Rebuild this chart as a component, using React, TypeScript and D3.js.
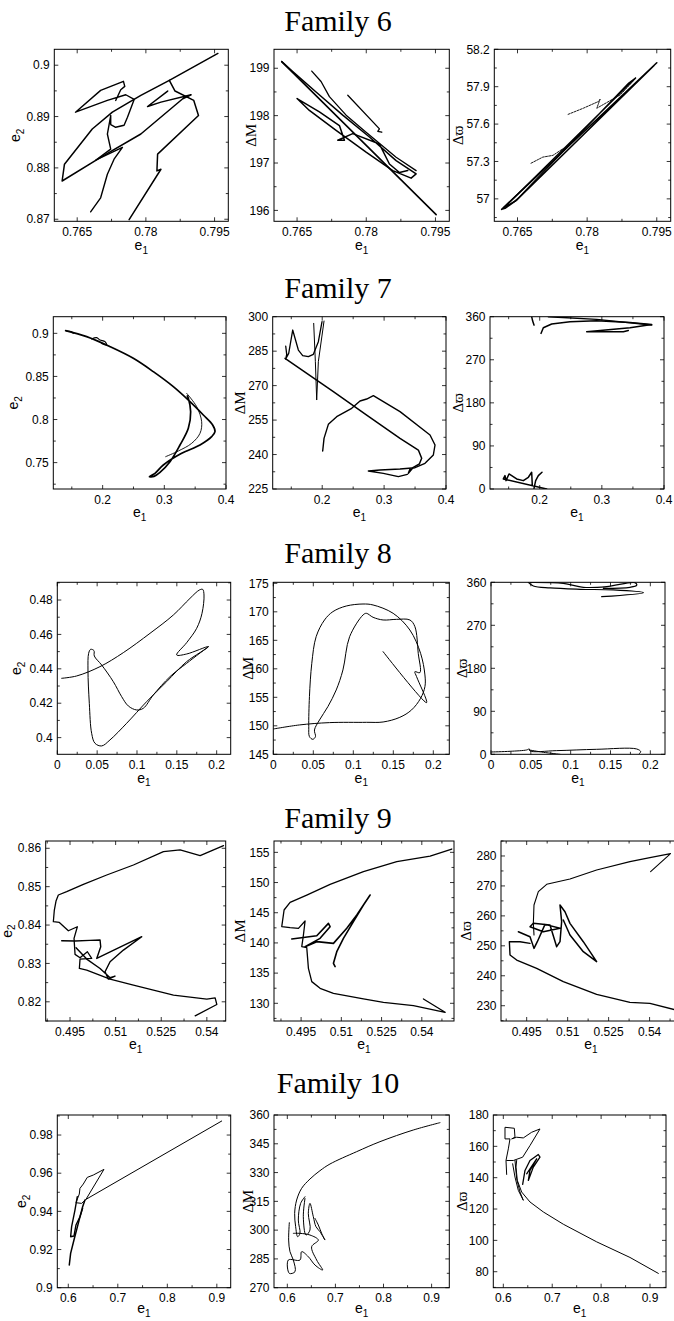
import React from "react";
import * as d3 from "d3";

type Pt = [number, number];

// ---------------- Family 6 ----------------
const fam6E1Ticks = [0.765, 0.78, 0.795];
const fam6E2Ticks = [0.87, 0.88, 0.89, 0.9];
const fam6DMTicks = [196, 197, 198, 199];
const fam6DWTicks = [57, 57.3, 57.6, 57.9, 58.2];

const fam6E2: Pt[][] = [
  [[0.79573, 0.90229], [0.78512, 0.89706], [0.7789, 0.89412], [0.77268, 0.89085], [0.76829, 0.88758], [0.76222, 0.88072], [0.76171, 0.87745], [0.77012, 0.88203], [0.7789, 0.8866], [0.78805, 0.89346], [0.78988, 0.89425], [0.78329, 0.89281], [0.78037, 0.89196], [0.78476, 0.89497]],
  [[0.78512, 0.89706], [0.78637, 0.89497], [0.79046, 0.89314], [0.79149, 0.8902], [0.78256, 0.88268], [0.78241, 0.87941], [0.78329, 0.87974], [0.77634, 0.86993]],
  [[0.76793, 0.87144], [0.77012, 0.87418], [0.77159, 0.87876], [0.77305, 0.8817], [0.77488, 0.88399], [0.76902, 0.8815], [0.77232, 0.88366], [0.77159, 0.8866], [0.77232, 0.8902], [0.77232, 0.88843], [0.77341, 0.88791], [0.77524, 0.8883], [0.77598, 0.88987], [0.77744, 0.89333], [0.77561, 0.89425], [0.77159, 0.89314], [0.76463, 0.89085], [0.77012, 0.8951], [0.7751, 0.89686], [0.77539, 0.89588], [0.77451, 0.89523], [0.77341, 0.89314]],
];

const fam6DM: Pt[][] = [
  [[0.76167, 199.14], [0.79515, 195.91]],
  [[0.76167, 199.14], [0.76406, 198.93], [0.76912, 198.5], [0.7749, 198.01], [0.78069, 197.55], [0.78647, 197.05], [0.79081, 196.77], [0.78972, 196.68], [0.78575, 196.84], [0.77996, 197.23], [0.77346, 197.69], [0.76767, 198.11], [0.765, 198.36], [0.76984, 198.08], [0.77418, 197.79], [0.77527, 197.48], [0.77382, 197.48], [0.77707, 197.62], [0.78286, 197.4], [0.78502, 196.98], [0.78719, 196.8], [0.789, 196.84]],
  [[0.76818, 198.94], [0.7702, 198.72], [0.77201, 198.4], [0.77563, 198.01], [0.77996, 197.65], [0.78647, 197.12], [0.79081, 196.84]],
  [[0.77599, 198.43], [0.78286, 197.72], [0.78249, 197.67], [0.78336, 197.65]],
];

const fam6DW: Pt[][] = [
  [[0.795, 58.092], [0.76159, 56.916], [0.76231, 56.924], [0.765, 56.997], [0.79442, 58.07]],
  [[0.79042, 57.97], [0.76209, 56.93], [0.76464, 56.984], [0.78897, 57.93], [0.79042, 57.97]],
  [[0.7759, 57.678], [0.77916, 57.727], [0.78243, 57.781], [0.7828, 57.8], [0.78207, 57.727], [0.78716, 57.835], [0.79042, 57.965]],
  [[0.76791, 57.286], [0.77045, 57.335], [0.77263, 57.349], [0.77481, 57.403]],
];

// ---------------- Family 7 ----------------
const fam7E1Ticks = [0.2, 0.3, 0.4];
const fam7E2Ticks = [0.75, 0.8, 0.85, 0.9];
const fam7DMTicks = [225, 240, 255, 270, 285, 300];
const fam7DWTicks = [0, 90, 180, 270, 360];

const fam7E2: Pt[][] = [
  [[0.14, 0.90309], [0.17405, 0.89613], [0.21189, 0.88453], [0.24973, 0.871], [0.28216, 0.85553], [0.31459, 0.83813], [0.34162, 0.82073], [0.36324, 0.80526], [0.37838, 0.79366], [0.38216, 0.78592], [0.37676, 0.78012], [0.35784, 0.77046], [0.32811, 0.76079], [0.29838, 0.74725], [0.28486, 0.73759], [0.27568, 0.73372], [0.28324, 0.73411], [0.29297, 0.73875], [0.30919, 0.75112], [0.32541, 0.77046], [0.33892, 0.78979], [0.3427, 0.80913], [0.33892, 0.82459], [0.3373, 0.8273]],
  [[0.33622, 0.83039], [0.35243, 0.81493], [0.36054, 0.79752], [0.35784, 0.78399], [0.34432, 0.77239], [0.3227, 0.76349], [0.30216, 0.75692]],
  [[0.18216, 0.89343], [0.19027, 0.89497], [0.19568, 0.89227], [0.20378, 0.89033], [0.20649, 0.88647], [0.19838, 0.8884]],
  [[0.14162, 0.90271], [0.14973, 0.90193], [0.15243, 0.9]],
];

const fam7DM: Pt[][] = [
  [[0.13992, 281.87], [0.21801, 267.36], [0.27186, 257.2], [0.32571, 247.05], [0.35533, 241.97], [0.36071, 238.35], [0.35694, 235.88], [0.34725, 234.43], [0.33917, 231.82], [0.34186, 233.7]],
  [[0.20077, 241.54], [0.20293, 247.05], [0.20993, 253.14], [0.22339, 256.48], [0.24763, 260.11], [0.26109, 263.3], [0.27186, 264.17], [0.28263, 265.62], [0.32571, 258.66], [0.37418, 248.5], [0.38226, 244.15], [0.37955, 239.8], [0.36609, 236.17], [0.34994, 234.28], [0.32571, 233.7], [0.2934, 233.27], [0.27455, 232.83], [0.29878, 231.82], [0.32301, 230.37], [0.33755, 231.38]],
  [[0.141, 287.23], [0.14262, 283.61], [0.141, 281.58], [0.14585, 284.04], [0.15231, 294.2], [0.16146, 285.49], [0.16847, 283.03], [0.17762, 282.59], [0.1857, 283.61], [0.19377, 289.12], [0.1997, 297.82]],
  [[0.18624, 297.1], [0.18893, 280.42], [0.19108, 263.73], [0.19377, 280.42], [0.20293, 298.11]],
];

const fam7DW: Pt[][] = [
  [[0.18705, 360], [0.18866, 350.91], [0.1908, 342.53]],
  [[0.20207, 325.05], [0.20582, 336.93], [0.21923, 344.62], [0.24874, 349.52], [0.29165, 351.61], [0.34529, 348.12], [0.38015, 343.92], [0.34529, 336.93], [0.27556, 328.55], [0.33456, 328.55], [0.3426, 331.34]],
  [[0.21387, 360], [0.29165, 354.41], [0.38015, 342.53]],
  [[0.21119, 0], [0.14146, 20.99], [0.14414, 27.98], [0.14575, 17.49], [0.15058, 31.47], [0.16291, 20.99], [0.17364, 17.49], [0.18169, 24.48], [0.18705, 34.97], [0.18812, 6.99]],
  [[0.1908, 1.39], [0.19349, 17.49], [0.19778, 27.98], [0.20368, 34.97]],
];

// ---------------- Family 8 ----------------
const fam8E1Ticks = [0, 0.05, 0.1, 0.15, 0.2];
const fam8E2Ticks = [0.4, 0.42, 0.44, 0.46, 0.48];
const fam8DMTicks = [145, 150, 155, 160, 165, 170, 175];
const fam8DWTicks = [0, 90, 180, 270, 360];

const fam8E2: Pt[][] = [
  [[0.00544, 0.43448], [0.02427, 0.43584], [0.05356, 0.44126], [0.08285, 0.4494], [0.11632, 0.46063], [0.14561, 0.47128], [0.16653, 0.48097], [0.17824, 0.48581], [0.18243, 0.4862], [0.1841, 0.48291], [0.18159, 0.47225], [0.1749, 0.46354], [0.16234, 0.45521], [0.14979, 0.44804], [0.16234, 0.44862], [0.18954, 0.45288], [0.16234, 0.44417], [0.13724, 0.43254], [0.11213, 0.42092], [0.08703, 0.40833], [0.06611, 0.39865], [0.05565, 0.39516], [0.04728, 0.39671], [0.0431, 0.40252], [0.04017, 0.41995], [0.03849, 0.43932], [0.03933, 0.44901], [0.04184, 0.45133], [0.04603, 0.45056], [0.04644, 0.44746], [0.05565, 0.44223], [0.07029, 0.43254], [0.08075, 0.42383], [0.08912, 0.4184], [0.09958, 0.41608], [0.10795, 0.41705], [0.1205, 0.4248], [0.14142, 0.43545], [0.16234, 0.4432], [0.18954, 0.45288]],
];

const fam8DM: Pt[][] = [
  [[0, 149.44], [0.03264, 150.15], [0.07029, 150.56], [0.11632, 150.61], [0.13724, 150.67], [0.15816, 151.49], [0.1728, 152.78], [0.1841, 154.82], [0.18954, 156.87], [0.18954, 158.92], [0.1841, 162.72], [0.17071, 166.81], [0.14979, 169.74], [0.12469, 171.2], [0.11213, 171.37], [0.09121, 171.02], [0.07448, 170.03], [0.06402, 168.57], [0.05356, 165.64], [0.04812, 160.96], [0.04519, 155.12], [0.04435, 149.85], [0.04519, 148.1], [0.04937, 147.63], [0.05272, 148.1], [0.05146, 149.27], [0.05774, 151.02], [0.0682, 153.36], [0.07866, 156.29], [0.08703, 159.8], [0.0954, 165.64], [0.11213, 169.44], [0.11632, 169.74], [0.12469, 169.04], [0.13724, 168.57], [0.15397, 168.68], [0.17071, 168.57], [0.17699, 167.4], [0.18117, 162.72], [0.18326, 159.33], [0.17699, 159.5], [0.17908, 158.63], [0.19163, 154.06], [0.13724, 163.01]],
];

const fam8DW: Pt[][] = [
  [[0.04686, 360], [0.05314, 352.33], [0.07406, 348.14], [0.11172, 345.35], [0.15356, 343.95], [0.19121, 338.37], [0.13891, 330.0]],
  [[0.04895, 360], [0.09079, 357.91], [0.1159, 349.53], [0.14519, 350.93], [0.18075, 359.3], [0.18285, 353.72], [0.17448, 349.53], [0.141, 347.44]],
  [[0.00084, 4.88], [0.02385, 6.28], [0.04477, 9.07], [0.04812, 11.16], [0.04895, 6.98], [0.08243, 7.67], [0.13264, 10.47], [0.18285, 11.16], [0.18787, 5.58], [0.18536, 0]],
  [[0.04812, 9.07], [0.06569, 4.19], [0.08661, 0]],
];

// ---------------- Family 9 ----------------
const fam9E1Ticks = [0.495, 0.51, 0.525, 0.54];
const fam9E2Ticks = [0.82, 0.83, 0.84, 0.85, 0.86];
const fam9DMTicks = [130, 135, 140, 145, 150, 155];
const fam9DWTicks = [230, 240, 250, 260, 270, 280];

const fam9E2: Pt[][] = [
  [[0.54548, 0.8607], [0.53779, 0.85809], [0.53121, 0.85957], [0.52572, 0.85913], [0.51585, 0.85565], [0.50707, 0.85304], [0.49939, 0.85061], [0.4939, 0.8487], [0.49116, 0.84783], [0.49039, 0.84626], [0.48984, 0.84391], [0.48951, 0.84087], [0.49149, 0.84069], [0.49445, 0.83852], [0.49741, 0.83956], [0.49632, 0.83652], [0.49665, 0.83235], [0.49829, 0.83148], [0.50071, 0.83304], [0.50213, 0.8313], [0.49829, 0.83113], [0.49807, 0.82869], [0.50049, 0.82826], [0.50817, 0.82591], [0.51585, 0.82435], [0.52902, 0.82174], [0.53999, 0.82069], [0.54273, 0.82104], [0.54328, 0.8193], [0.53615, 0.81635]],
  [[0.49226, 0.83591], [0.49665, 0.83583], [0.50158, 0.836], [0.50488, 0.83609], [0.5051, 0.83435], [0.50378, 0.8313], [0.51859, 0.83696], [0.51256, 0.83348], [0.50817, 0.83043], [0.50652, 0.82783], [0.50762, 0.82591], [0.50981, 0.82669], [0.50817, 0.82626], [0.50488, 0.82869], [0.50049, 0.83113], [0.49698, 0.83409]],
];

const fam9DM: Pt[][] = [
  [[0.55117, 155.55], [0.5431, 154.39], [0.53067, 153.45], [0.51824, 151.8], [0.50581, 149.7], [0.49711, 147.93], [0.4909, 146.72], [0.48866, 145.45], [0.48779, 142.69], [0.4909, 142.53], [0.49401, 142.42], [0.49649, 143.63], [0.49587, 141.31], [0.49525, 139.38], [0.49711, 139.22], [0.49773, 135.79], [0.49898, 133.59], [0.50208, 132.48], [0.50706, 131.65], [0.51824, 130.72], [0.5257, 130.16], [0.53688, 129.61], [0.54869, 128.51], [0.54061, 130.72]],
  [[0.49152, 140.65], [0.50084, 141.2], [0.50519, 143.24], [0.50581, 142.69], [0.50208, 140.76], [0.49649, 139.38], [0.50084, 140.21], [0.50706, 139.93], [0.51203, 142.42], [0.51576, 144.62], [0.52073, 147.94], [0.51824, 146.28], [0.51451, 143.52], [0.51078, 140.76], [0.5083, 138.55], [0.50706, 136.62], [0.50768, 136.07]],
];

const fam9DW: Pt[][] = [
  [[0.54037, 274.77], [0.54768, 280.78], [0.54012, 279.44], [0.5328, 278.11], [0.52061, 275.32], [0.51085, 272.32], [0.50232, 270.53], [0.49927, 268.08], [0.49768, 263.63], [0.49744, 257.51], [0.49768, 253.61]],
  [[0.49195, 254.72], [0.49622, 253.05], [0.49768, 249.15], [0.4989, 251.38], [0.50171, 257.17], [0.5072, 255.84], [0.5011, 254.72], [0.49622, 256.39], [0.49744, 257.51], [0.50354, 256.95], [0.50598, 249.71], [0.5072, 251.38], [0.5078, 258.06], [0.5072, 263.63], [0.50902, 261.4], [0.51085, 257.51], [0.51573, 251.38], [0.52061, 244.7], [0.51573, 248.04], [0.51085, 253.61], [0.50841, 258.62]],
  [[0.49622, 250.82], [0.49256, 251.38], [0.48866, 251.38], [0.4889, 246.93], [0.49134, 245.26], [0.49866, 242.47], [0.50841, 238.02], [0.52061, 233.79], [0.5328, 231.11], [0.54012, 230.78], [0.54988, 228.55]],
];

// ---------------- Family 10 ----------------
const fam10E1Ticks = [0.6, 0.7, 0.8, 0.9];
const fam10E2Ticks = [0.9, 0.92, 0.94, 0.96, 0.98];
const fam10DMTicks = [270, 285, 300, 315, 330, 345, 360];
const fam10DWTicks = [80, 100, 120, 140, 160, 180];

const fam10E2: Pt[][] = [
  [[0.90976, 0.98734], [0.63569, 0.94629], [0.67205, 0.96201], [0.65051, 0.95904], [0.63838, 0.95782], [0.6303, 0.95432], [0.62357, 0.95205], [0.62222, 0.94908], [0.61549, 0.94454], [0.62694, 0.94419], [0.63569, 0.94629]],
  [[0.60202, 0.91188], [0.60471, 0.91799], [0.61145, 0.92498], [0.6202, 0.93371], [0.62896, 0.94245], [0.63367, 0.94594]],
  [[0.61818, 0.94769], [0.61347, 0.9407], [0.60673, 0.93197], [0.60471, 0.92673], [0.61145, 0.92708], [0.61549, 0.93284], [0.62357, 0.93721], [0.62896, 0.94157]],
];

const fam10DM: Pt[][] = [
  [[0.91739, 356.0], [0.86195, 352.18], [0.79266, 346.1], [0.74414, 340.89], [0.6887, 334.46], [0.66791, 330.98], [0.64712, 326.64], [0.6298, 321.78], [0.6194, 315.69], [0.61525, 308.74], [0.61733, 301.79], [0.62148, 296.58], [0.62633, 298.32], [0.62287, 305.27], [0.62772, 313.96], [0.63673, 317.43]],
  [[0.63673, 316.56], [0.63326, 307.01], [0.63881, 297.45], [0.64712, 300.06], [0.64366, 308.74], [0.64712, 313.96], [0.65405, 307.01], [0.6596, 301.79], [0.66791, 299.19], [0.67831, 294.84], [0.67138, 298.32], [0.66445, 302.66], [0.65752, 306.14]],
  [[0.60416, 303.88], [0.60277, 294.84], [0.60554, 288.76], [0.61247, 284.42], [0.61594, 278.34], [0.60416, 277.47], [0.60208, 284.42], [0.62633, 284.42], [0.6298, 288.76], [0.64366, 286.16], [0.65752, 281.81], [0.67346, 279.21], [0.66098, 284.42], [0.65059, 291.37], [0.66445, 294.84], [0.64712, 297.45], [0.62633, 298.32], [0.61247, 298.32]],
];

const fam10DW: Pt[][] = [
  [[0.91698, 78.94], [0.85903, 89.11], [0.79087, 99.07], [0.7227, 110.3], [0.6818, 118.14], [0.65453, 124.49], [0.63749, 130.85], [0.62863, 138.26], [0.6259, 146.74], [0.62727, 150.97]],
  [[0.61909, 148.86], [0.62386, 140.38], [0.63067, 131.91], [0.6409, 125.55], [0.63408, 130.85], [0.62727, 139.32], [0.62386, 150.97]],
  [[0.60682, 142.08], [0.60545, 150.97], [0.61022, 158.39], [0.61363, 164.75], [0.60341, 164.75], [0.60341, 172.16], [0.6225, 171.53], [0.62386, 165.81], [0.61704, 164.75], [0.62727, 165.81], [0.6409, 165.38], [0.65794, 168.98], [0.67498, 171.1], [0.65453, 160.51], [0.63954, 153.09], [0.62045, 150.97], [0.60682, 150.97]],
  [[0.63954, 135.72], [0.64431, 144.62], [0.65453, 150.97], [0.67157, 154.79], [0.67498, 153.09], [0.66135, 146.74], [0.65112, 138.26], [0.65453, 144.62], [0.66817, 152.03], [0.64772, 142.5]],
];

// ---------------- layout ----------------
interface PanelCfg {
  x0: number; x1: number; y0: number; y1: number;
  xDom: [number, number]; yDom: [number, number];
  xTicks: number[]; yTicks: number[];
  yLabel: "e2" | "dM" | "dw";
  yLabOff: number;
  segs: Pt[][];
  widths: number[];
  dashed?: number[];
  smooth?: boolean;
}

interface RowCfg { title: string; titleY: number; xLabOff: number; panels: PanelCfg[] }

const rows: RowCfg[] = [
  {
    title: "Family 6", titleY: 31, xLabOff: 29,
    panels: [
      { x0: 54.3, x1: 228.3, y0: 49.3, y1: 221.3, xDom: [0.76, 0.798], yDom: [0.8696, 0.9031], xTicks: fam6E1Ticks, yTicks: fam6E2Ticks, yLabel: "e2", yLabOff: -34, segs: fam6E2, widths: [1.5, 1.5, 1.4] },
      { x0: 274, x1: 449.3, y0: 49.3, y1: 221.3, xDom: [0.76, 0.798], yDom: [195.77, 199.4], xTicks: fam6E1Ticks, yTicks: fam6DMTicks, yLabel: "dM", yLabOff: -18, segs: fam6DM, widths: [1.6, 1.5, 1.3, 1.3] },
      { x0: 494.3, x1: 670.7, y0: 49.3, y1: 221.3, xDom: [0.76, 0.798], yDom: [56.82, 58.2], xTicks: fam6E1Ticks, yTicks: fam6DWTicks, yLabel: "dw", yLabOff: -31, segs: fam6DW, widths: [1.6, 1.4, 0.9, 0.9], dashed: [2, 3] },
    ],
  },
  {
    title: "Family 7", titleY: 298, xLabOff: 28,
    panels: [
      { x0: 53.3, x1: 226, y0: 316.7, y1: 489, xDom: [0.12, 0.4], yDom: [0.7194, 0.9193], xTicks: fam7E1Ticks, yTicks: fam7E2Ticks, yLabel: "e2", yLabOff: -35, segs: fam7E2, widths: [1.7, 0.9, 1.2, 1.2], smooth: true },
      { x0: 272.7, x1: 446, y0: 316.7, y1: 489, xDom: [0.12, 0.4], yDom: [225, 300], xTicks: fam7E1Ticks, yTicks: fam7DMTicks, yLabel: "dM", yLabOff: -28, segs: fam7DM, widths: [1.5, 1.4, 1.3, 1.0] },
      { x0: 490, x1: 664, y0: 316.7, y1: 489, xDom: [0.12, 0.4], yDom: [0, 360], xTicks: fam7E1Ticks, yTicks: fam7DWTicks, yLabel: "dw", yLabOff: -27, segs: fam7DW, widths: [1.5, 1.5, 1.5, 1.5, 1.5] },
    ],
  },
  {
    title: "Family 8", titleY: 563, xLabOff: 28.5,
    panels: [
      { x0: 57.3, x1: 230.7, y0: 582.3, y1: 754.3, xDom: [0, 0.2176], yDom: [0.3903, 0.4903], xTicks: fam8E1Ticks, yTicks: fam8E2Ticks, yLabel: "e2", yLabOff: -36, segs: fam8E2, widths: [1.0], smooth: true },
      { x0: 273.3, x1: 449.3, y0: 582.3, y1: 754.3, xDom: [0, 0.22], yDom: [145, 175.18], xTicks: fam8E1Ticks, yTicks: fam8DMTicks, yLabel: "dM", yLabOff: -20, segs: fam8DM, widths: [1.0], smooth: true },
      { x0: 491, x1: 665, y0: 582.3, y1: 754.3, xDom: [0, 0.2184], yDom: [0, 360], xTicks: fam8E1Ticks, yTicks: fam8DWTicks, yLabel: "dw", yLabOff: -24, segs: fam8DW, widths: [1.2, 1.2, 1.0, 1.0], smooth: true },
    ],
  },
  {
    title: "Family 9", titleY: 828, xLabOff: 28,
    panels: [
      { x0: 45.7, x1: 225.7, y0: 841, y1: 1021, xDom: [0.487, 0.5462], yDom: [0.815, 0.8619], xTicks: fam9E1Ticks, yTicks: fam9E2Ticks, yLabel: "e2", yLabOff: -34, segs: fam9E2, widths: [1.3, 1.4] },
      { x0: 274, x1: 454, y0: 841, y1: 1021, xDom: [0.4849, 0.552], yDom: [127.07, 156.88], xTicks: fam9E1Ticks, yTicks: fam9DMTicks, yLabel: "dM", yLabOff: -29, segs: fam9DM, widths: [1.3, 1.6] },
      { x0: 501, x1: 681, y0: 841, y1: 1021, xDom: [0.4856, 0.5515], yDom: [224.9, 285], xTicks: fam9E1Ticks, yTicks: fam9DWTicks, yLabel: "dw", yLabOff: -30, segs: fam9DW, widths: [1.1, 1.5, 1.4] },
    ],
  },
  {
    title: "Family 10", titleY: 1093, xLabOff: 25.5,
    panels: [
      { x0: 57.3, x1: 230.7, y0: 1115, y1: 1287.7, xDom: [0.5778, 0.928], yDom: [0.9, 0.9905], xTicks: fam10E1Ticks, yTicks: fam10E2Ticks, yLabel: "e2", yLabOff: -31, segs: fam10E2, widths: [1.0, 1.5, 1.4] },
      { x0: 274, x1: 449.3, y0: 1115, y1: 1287.7, xDom: [0.5723, 0.9368], yDom: [270, 360], xTicks: fam10E1Ticks, yTicks: fam10DMTicks, yLabel: "dM", yLabOff: -21, segs: fam10DM, widths: [1.0, 1.0, 1.0], smooth: true },
      { x0: 493.3, x1: 666, y0: 1115, y1: 1287.7, xDom: [0.5795, 0.9327], yDom: [69.8, 180], xTicks: fam10E1Ticks, yTicks: fam10DWTicks, yLabel: "dw", yLabOff: -26, segs: fam10DW, widths: [1.0, 1.0, 1.0, 1.3] },
    ],
  },
];

const SANS = "'Liberation Sans', Arial, Helvetica, sans-serif";
const SERIF = "'Liberation Serif', 'Times New Roman', 'DejaVu Serif', serif";

function minorTicks(ticks: number[], dom: [number, number]): number[] {
  const s = ticks[1] - ticks[0];
  const out: number[] = [];
  const lo = Math.min(dom[0], dom[1]);
  const hi = Math.max(dom[0], dom[1]);
  for (let v = ticks[0] - s / 2 - s * 4; v <= hi + 1e-9; v += s) {
    if (v >= lo - 1e-9) out.push(v);
  }
  return out;
}

function YLabel({ kind, x, y }: { kind: string; x: number; y: number }) {
  const tr = `translate(${x},${y}) rotate(-90)`;
  if (kind === "e2") {
    return (
      <text transform={tr} textAnchor="middle" fontFamily={SANS} fontSize={14} fill="#000">
        e<tspan fontSize={10} dy={3.5}>2</tspan>
      </text>
    );
  }
  return (
    <text transform={tr} textAnchor="middle" fontFamily={SERIF} fontSize={15} fill="#000">
      {kind === "dM" ? "\u0394M" : "\u0394\u03D6"}
    </text>
  );
}

function Panel({ p, id, xLabOff }: { p: PanelCfg; id: string; xLabOff: number }) {
  const xs = d3.scaleLinear().domain(p.xDom).range([p.x0, p.x1]);
  const ys = d3.scaleLinear().domain(p.yDom).range([p.y1, p.y0]);
  const gen = d3
    .line<Pt>()
    .x((d) => xs(d[0]))
    .y((d) => ys(d[1]))
    .curve(p.smooth ? d3.curveCatmullRom.alpha(0.5) : d3.curveLinear);
  const xMinor = minorTicks(p.xTicks, p.xDom);
  const yMinor = minorTicks(p.yTicks, p.yDom);
  const cx = (p.x0 + p.x1) / 2;
  const cy = (p.y0 + p.y1) / 2;
  const tk = { stroke: "#000", strokeWidth: 0.8 };
  return (
    <g>
      <defs>
        <clipPath id={id}>
          <rect x={p.x0} y={p.y0} width={p.x1 - p.x0} height={p.y1 - p.y0} />
        </clipPath>
      </defs>
      <g clipPath={`url(#${id})`}>
        {p.segs.map((s, i) => (
          <path
            key={i}
            d={gen(s) || ""}
            fill="none"
            stroke="#000"
            strokeWidth={p.widths[i] ?? 1}
            strokeLinejoin="round"
            strokeLinecap="round"
            strokeDasharray={p.dashed && p.dashed.includes(i) ? "2,1.2" : undefined}
          />
        ))}
      </g>
      <rect x={p.x0} y={p.y0} width={p.x1 - p.x0} height={p.y1 - p.y0} fill="none" stroke="#000" strokeWidth={1} />
      {xMinor.map((v, i) => {
        const x = xs(v);
        return (
          <g key={"xm" + i}>
            <line x1={x} x2={x} y1={p.y1} y2={p.y1 - 2.5} {...tk} />
            <line x1={x} x2={x} y1={p.y0} y2={p.y0 + 2.5} {...tk} />
          </g>
        );
      })}
      {yMinor.map((v, i) => {
        const y = ys(v);
        return (
          <g key={"ym" + i}>
            <line x1={p.x0} x2={p.x0 + 2.5} y1={y} y2={y} {...tk} />
            <line x1={p.x1} x2={p.x1 - 2.5} y1={y} y2={y} {...tk} />
          </g>
        );
      })}
      {p.xTicks.map((v, i) => {
        const x = xs(v);
        return (
          <g key={"xt" + i}>
            <line x1={x} x2={x} y1={p.y1} y2={p.y1 - 4} {...tk} />
            <line x1={x} x2={x} y1={p.y0} y2={p.y0 + 4} {...tk} />
            <text x={x} y={p.y1 + 14.5} textAnchor="middle" fontFamily={SANS} fontSize={12} fill="#000">
              {String(v)}
            </text>
          </g>
        );
      })}
      {p.yTicks.map((v, i) => {
        const y = ys(v);
        return (
          <g key={"yt" + i}>
            <line x1={p.x0} x2={p.x0 + 4} y1={y} y2={y} {...tk} />
            <line x1={p.x1} x2={p.x1 - 4} y1={y} y2={y} {...tk} />
            <text x={p.x0 - 4.5} y={y + 4.2} textAnchor="end" fontFamily={SANS} fontSize={12} fill="#000">
              {String(v)}
            </text>
          </g>
        );
      })}
      <text x={cx} y={p.y1 + xLabOff} textAnchor="middle" fontFamily={SANS} fontSize={14} fill="#000">
        e<tspan fontSize={10} dy={3.5}>1</tspan>
      </text>
      <YLabel kind={p.yLabel} x={p.x0 + p.yLabOff} y={cy} />
    </g>
  );
}

export default function App() {
  return (
    <svg
      width={674}
      height={1321}
      viewBox="0 0 674 1321"
      style={{ position: "absolute", left: 0, top: 0, background: "#fff" }}
    >
      <rect x={0} y={0} width={674} height={1321} fill="#fff" />
      {rows.map((r, ri) => (
        <g key={ri}>
          <text x={338} y={r.titleY} textAnchor="middle" fontFamily={SERIF} fontSize={30} fill="#000">
            {r.title}
          </text>
          {r.panels.map((p, pi) => (
            <Panel key={pi} p={p} id={`clip-${ri}-${pi}`} xLabOff={r.xLabOff} />
          ))}
        </g>
      ))}
    </svg>
  );
}
